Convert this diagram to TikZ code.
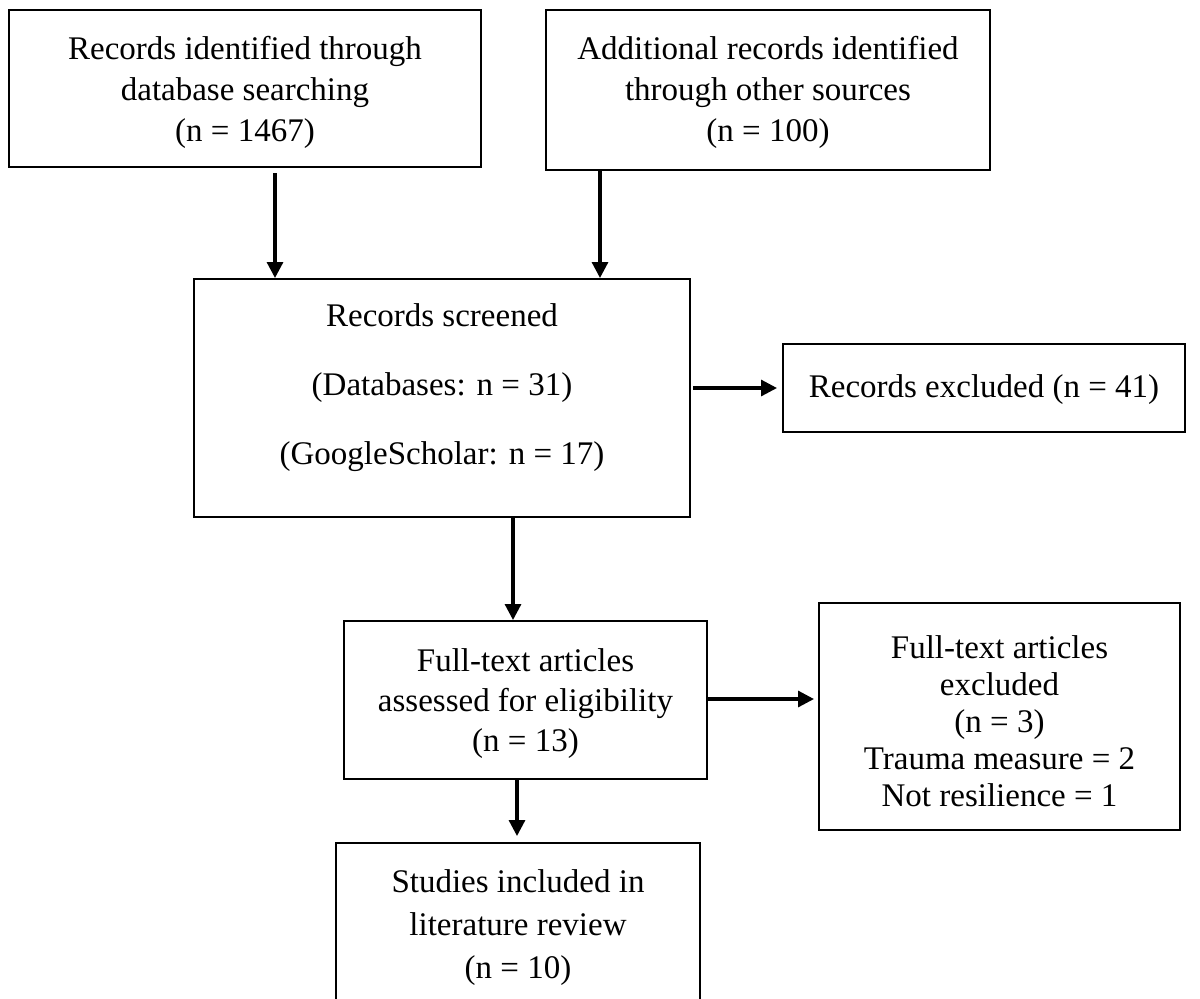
\documentclass[tikz,border=0pt]{standalone}
\usepackage{fontspec}
\setmainfont{Liberation Serif}
\usetikzlibrary{arrows.meta}
\tikzset{
  box/.style={draw, line width=1pt, inner sep=0pt},
  txt/.style={align=center, inner sep=0pt, font=\fontsize{16.5}{20}\selectfont},
  arr/.style={line width=1.6pt, -{Triangle[length=8pt,width=8pt]}},
}
\begin{document}
\begin{tikzpicture}[x=0.5pt,y=-0.5pt]
\useasboundingbox (0,0) rectangle (1200,998);
\clip (0,0) rectangle (1200,998);
% boxes
\node[box, minimum width=236pt, minimum height=78.5pt] (b1) at (245,88.5) {};
\node[box, minimum width=222pt, minimum height=80pt] (b2) at (768,90) {};
\node[box, minimum width=248pt, minimum height=119pt] (b3) at (442,398) {};
\node[box, minimum width=201pt, minimum height=44pt] (b4) at (984,388) {};
\node[box, minimum width=181.5pt, minimum height=79pt] (b5) at (525.5,700) {};
\node[box, minimum width=180.5pt, minimum height=113.5pt] (b6) at (999.5,716.5) {};
\node[box, minimum width=182pt, minimum height=84pt] (b7) at (518,927) {};
% texts
\node[txt, font=\fontsize{16.5}{20.5}\selectfont] (t1) at (245,92)
  {Records identified through\\database searching\\(n = 1467)};
\node[txt, font=\fontsize{16.5}{20.5}\selectfont] (t2) at (768,92)
  {Additional records identified\\through other sources\\(n = 100)};
\node[txt] (t3) at (442,388)
  {Records screened\\[14.5pt](Databases: n = 31)\\[14.5pt](GoogleScholar: n = 17)};
\node[txt] (t4) at (984,390) {Records excluded (n = 41)};
\node[txt] (t5) at (525.5,704)
  {Full-text articles\\assessed for eligibility\\(n = 13)};
\node[txt, font=\fontsize{16.5}{18.5}\selectfont] (t6) at (999.5,721)
  {Full-text articles\\excluded\\(n = 3)\\Trauma measure = 2\\Not resilience = 1};
\node[txt, font=\fontsize{16.5}{21.5}\selectfont] (t7) at (518,928)
  {Studies included in\\literature review\\(n = 10)};
% connectors
\coordinate (x1) at (275,0);
\coordinate (x2) at (600,0);
\coordinate (x4) at (513,0);
\coordinate (x6) at (517,0);
\coordinate (y3) at (0,388);
\coordinate (y5) at (0,699);
\draw[arr, shorten <=2.5pt] (b1.south -| x1) -- (b3.north -| x1);
\draw[arr] (b2.south -| x2) -- (b3.north -| x2);
\draw[arr, shorten <=1pt, shorten >=2.5pt] (b3.east |- y3) -- (b4.west |- y3);
\draw[arr] (b3.south -| x4) -- (b5.north -| x4);
\draw[arr, shorten >=2pt] (b5.east |- y5) -- (b6.west |- y5);
\draw[arr, shorten >=3pt] (b5.south -| x6) -- (b7.north -| x6);
\end{tikzpicture}
\end{document}
